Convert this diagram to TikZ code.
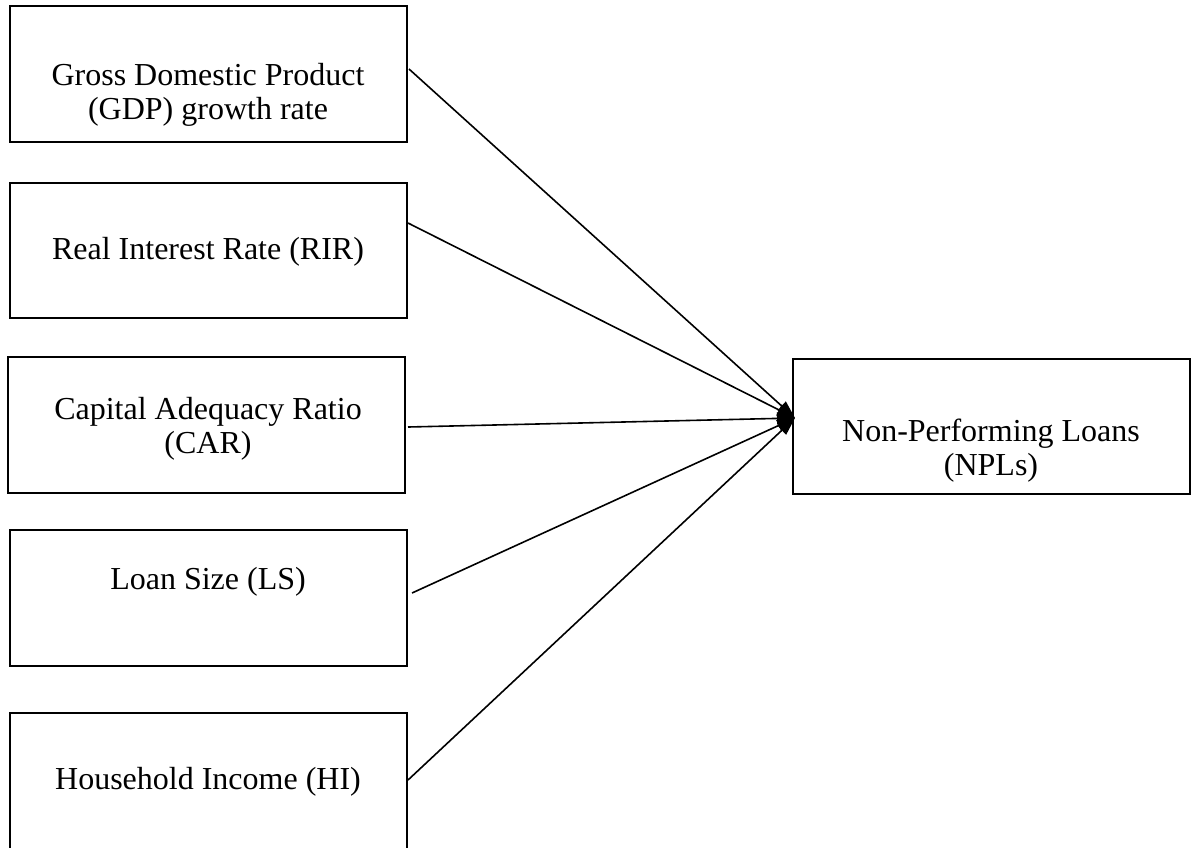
\documentclass[tikz,border=0pt]{standalone}
\usepackage{fontspec}
\setmainfont{Liberation Serif}
\usetikzlibrary{arrows.meta}
\tikzset{
  box/.style={draw, line width=1pt, rectangle, minimum width=198.5pt, inner sep=0pt},
  lbl/.style={align=center, inner sep=0pt, font=\fontsize{16}{17}\selectfont},
  conn/.style={line width=0.8pt, -{Triangle[length=9pt,width=6pt]}}
}
\begin{document}
\begin{tikzpicture}[x=0.5pt,y=-0.5pt]
\useasboundingbox (0,0) rectangle (1197,847);
\clip (0,0) rectangle (1197,847);
% boxes
\node[box, minimum height=68pt] (gdp) at (208.5,74) {};
\node[box, minimum height=67.5pt] (rir) at (208.5,250.5) {};
\node[box, minimum height=68pt] (car) at (206.5,425) {};
\node[box, minimum height=68pt] (ls) at (208.5,598) {};
\node[box, minimum height=68pt] (hi) at (208.5,781) {};
\node[box, minimum height=67.5pt] (npl) at (991.5,426.5) {};
% labels
\node[lbl] (tgdp) at (208,95) {Gross Domestic Product\\(GDP) growth rate};
\node[lbl] (trir) at (208,252) {Real Interest Rate (RIR)};
\node[lbl] (tcar) at (208,429) {Capital Adequacy Ratio\\(CAR)};
\node[lbl] (tls) at (208,582) {Loan Size (LS)};
\node[lbl] (thi) at (208,782) {Household Income (HI)};
\node[lbl] (tnpl) at (991,451) {Non-Performing Loans\\(NPLs)};
% connector ends
\coordinate (s1) at (409,69);
\coordinate (s2) at (408,223);
\coordinate (s3) at (408,427);
\coordinate (s4) at (412,593);
\coordinate (s5) at (408,780);
\coordinate (tip) at (795,418);
\foreach \s in {s1,s2,s3,s4,s5}
  \draw[conn] (\s) -- (tip);
\end{tikzpicture}
\end{document}
